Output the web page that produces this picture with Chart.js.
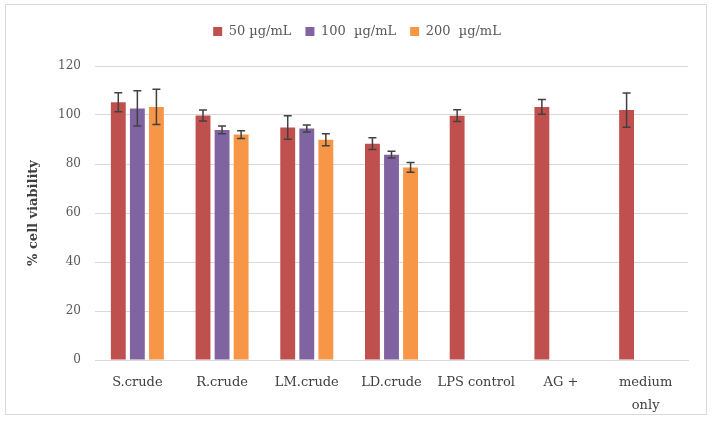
<!DOCTYPE html>
<html>
<head>
<meta charset="utf-8">
<script src="https://cdn.jsdelivr.net/npm/chart.js@4/dist/chart.umd.min.js"></script>
<style>
  html, body { margin: 0; padding: 0; background: #fff; }
  #wrap { position: relative; width: 712px; height: 425px; }
</style>
</head>
<body>
<div id="wrap"><canvas id="viability-chart"></canvas></div>
<script>
// data
const categories = ['S.crude', 'R.crude', 'LM.crude', 'LD.crude', 'LPS control', 'AG +', ['medium', 'only']];
const seriesNames = ['50 µg/mL', '100  µg/mL', '200  µg/mL'];
const values50 = [105.2, 99.8, 94.9, 88.3, 99.7, 103.3, 102.0];
const err50 = [3.9, 2.2, 4.8, 2.4, 2.4, 3.0, 7.0];
const values100 = [102.7, 93.9, 94.5, 83.8, null, null, null];
const err100 = [7.2, 1.6, 1.4, 1.4, null, null, null];
const values200 = [103.3, 92.0, 89.9, 78.6, null, null, null];
const err200 = [7.2, 1.6, 2.4, 2.0, null, null, null];
const yTicks = [0, 20, 40, 60, 80, 100, 120];

const colors = ['#C0504D', '#8064A2', '#F79646'];
const errors = [err50, err100, err200];
const serif = "'DejaVu Serif', 'Liberation Serif', serif";

// frame round the whole chart
const framePlugin = {
  id: 'frame',
  beforeDraw(chart) {
    const ctx = chart.ctx;
    ctx.save();
    ctx.strokeStyle = '#d9d9d9';
    ctx.lineWidth = 1;
    ctx.strokeRect(5.5, 4.5, 701, 410);
    ctx.restore();
  }
};

// error bars drawn through the y scale
const errorBarPlugin = {
  id: 'errorBars',
  afterDatasetsDraw(chart) {
    const ctx = chart.ctx;
    const y = chart.scales.y;
    ctx.save();
    ctx.strokeStyle = '#404040';
    ctx.lineWidth = 1.5;
    chart.data.datasets.forEach((ds, i) => {
      const meta = chart.getDatasetMeta(i);
      meta.data.forEach((bar, j) => {
        const v = ds.data[j];
        const e = errors[i][j];
        if (v == null || e == null) return;
        const top = y.getPixelForValue(v + e);
        const bot = y.getPixelForValue(v - e);
        const cap = 4;
        ctx.beginPath();
        ctx.moveTo(bar.x, top); ctx.lineTo(bar.x, bot);
        ctx.moveTo(bar.x - cap, top); ctx.lineTo(bar.x + cap, top);
        ctx.moveTo(bar.x - cap, bot); ctx.lineTo(bar.x + cap, bot);
        ctx.stroke();
      });
    });
    ctx.restore();
  }
};

// make room under the legend
const legendGap = {
  id: 'legendGap',
  beforeInit(chart) {
    const fit = chart.legend.fit;
    chart.legend.fit = function () {
      fit.call(this);
      this.height += 18;
    };
  }
};

const seriesValues = [values50, values100, values200];

new Chart(document.getElementById('viability-chart'), {
  type: 'bar',
  data: {
    labels: categories,
    datasets: seriesNames.map((name, i) => ({
      label: name,
      data: seriesValues[i],
      backgroundColor: colors[i],
      borderWidth: 0,
      categoryPercentage: 0.675,
      barPercentage: 0.78
    }))
  },
  options: {
    responsive: true,
    maintainAspectRatio: false,
    animation: false,
    layout: { padding: { left: 26, right: 24, top: 11, bottom: 10 } },
    plugins: {
      tooltip: { enabled: false },
      legend: {
        position: 'top',
        labels: {
          boxWidth: 9,
          boxHeight: 9,
          padding: 14,
          color: '#595959',
          font: { family: serif, size: 13 }
        }
      }
    },
    scales: {
      x: {
        grid: { display: false, drawTicks: false },
        border: { display: true, color: '#d9d9d9', width: 1 },
        ticks: {
          color: '#404040',
          padding: 12,
          maxRotation: 0,
          autoSkip: false,
          font: { family: serif, size: 13, lineHeight: 1.7 }
        },
        afterFit(scale) { scale.height = 55; }
      },
      y: {
        min: 0,
        max: 120,
        afterBuildTicks(scale) { scale.ticks = yTicks.map(v => ({ value: v })); },
        grid: { color: '#d9d9d9', lineWidth: 1, drawTicks: false },
        border: { display: false },
        ticks: {
          color: '#595959',
          padding: 14,
          font: { family: serif, size: 12 }
        },
        title: {
          display: true,
          text: '% cell viability',
          color: '#404040',
          font: { family: serif, size: 13, weight: 'bold' },
          padding: { top: 0, bottom: 4 }
        },
        afterFit(scale) { scale.width = 69; }
      }
    }
  },
  plugins: [framePlugin, errorBarPlugin, legendGap]
});
</script>
</body>
</html>
